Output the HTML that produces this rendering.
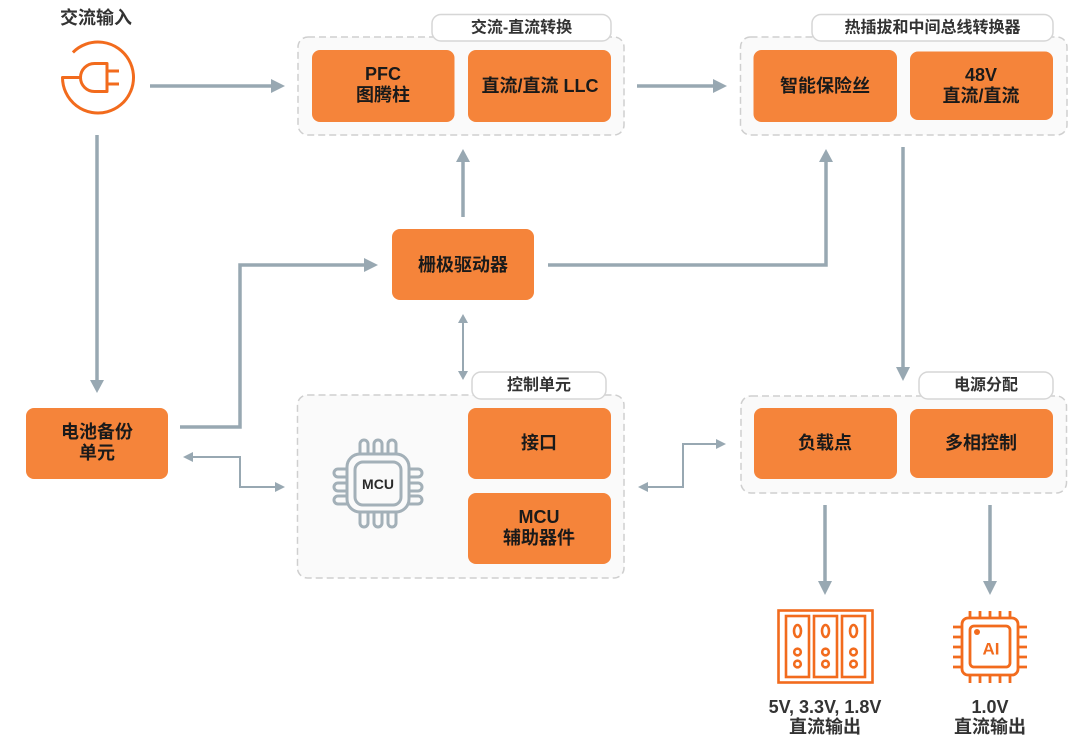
<!DOCTYPE html>
<html><head><meta charset="utf-8"><style>
html,body{margin:0;padding:0;background:#fff;}
svg{display:block;}
text{font-family:"Liberation Sans","Noto Sans CJK SC",sans-serif;font-weight:bold;}
</style></head><body>
<svg width="1080" height="745" viewBox="0 0 1080 745" xmlns="http://www.w3.org/2000/svg">
<!-- groups -->
<g fill="#fafafa" stroke="#cfcfcf" stroke-width="1.5" stroke-dasharray="7 4">
<rect x="298" y="37" width="326" height="98" rx="10"/>
<rect x="740.5" y="37" width="326.5" height="98" rx="10"/>
<rect x="297.5" y="395" width="326.5" height="183" rx="10"/>
<rect x="741" y="396" width="325.5" height="97" rx="10"/>
</g>
<g fill="#fff" stroke="#d6d6d6" stroke-width="1.5">
<rect x="432" y="14.5" width="179" height="26.5" rx="9"/>
<rect x="812" y="14.5" width="241" height="26.5" rx="9"/>
<rect x="472" y="372" width="134" height="27" rx="9"/>
<rect x="919" y="372" width="134" height="27" rx="9"/>
</g>
<g fill="#333" font-size="16" text-anchor="middle" dominant-baseline="central">
<text x="521.5" y="28">交流-直流转换</text>
<text x="932.5" y="28">热插拔和中间总线转换器</text>
<text x="539" y="385.5">控制单元</text>
<text x="986" y="385.5">电源分配</text>
</g>
<!-- nodes -->
<g fill="#f5843a">
<rect x="312" y="50" width="142.5" height="72" rx="8"/>
<rect x="468" y="50" width="143" height="72" rx="8"/>
<rect x="753.5" y="50" width="143.5" height="72" rx="8"/>
<rect x="910" y="51.5" width="143" height="68.5" rx="8"/>
<rect x="392" y="229" width="142" height="71" rx="8"/>
<rect x="26" y="408" width="142" height="71" rx="8"/>
<rect x="468" y="408" width="143" height="71" rx="8"/>
<rect x="468" y="493" width="143" height="71" rx="8"/>
<rect x="754" y="408" width="143" height="71" rx="8"/>
<rect x="910" y="409" width="143" height="69" rx="8"/>
</g>
<g fill="#1a1a1a" font-size="18" text-anchor="middle" dominant-baseline="central">
<text x="383" y="74">PFC</text>
<text x="383" y="95">图腾柱</text>
<text x="540" y="86">直流/直流 LLC</text>
<text x="825" y="86">智能保险丝</text>
<text x="981" y="75">48V</text>
<text x="981" y="96">直流/直流</text>
<text x="463" y="265">栅极驱动器</text>
<text x="97" y="432">电池备份</text>
<text x="97" y="453">单元</text>
<text x="539" y="443">接口</text>
<text x="539" y="517">MCU</text>
<text x="539" y="538">辅助器件</text>
<text x="825" y="443">负载点</text>
<text x="981" y="443">多相控制</text>
</g>
<!-- title -->
<text x="96" y="18" font-size="18" fill="#333" text-anchor="middle" dominant-baseline="central">交流输入</text>
<!-- plug icon -->
<g fill="none" stroke="#f26b1d" stroke-width="3" stroke-linejoin="round">
<path d="M72.9,52.4 A35.5,35.5 0 1 1 62.5,77.5 L80.5,77.5"/>
<path d="M107,63.5 L94.5,63.5 A14,14 0 0 0 94.5,91.5 L107,91.5 Z"/>
<path d="M107,71 L119,71 M107,84 L119,84"/>
</g>
<!-- thick arrows -->
<g fill="none" stroke="#98a8b2" stroke-width="3.5">
<path d="M150,86 L272,86"/>
<path d="M97,135 L97,381"/>
<path d="M637,86 L714,86"/>
<path d="M180,427 L240,427 L240,265 L366,265"/>
<path d="M463,217 L463,161"/>
<path d="M548,265 L826,265 L826,161"/>
<path d="M903,147 L903,368"/>
<path d="M825,505 L825,582"/>
<path d="M990,505 L990,582"/>
</g>
<g fill="#98a8b2">
<polygon points="285,86 271,79 271,93"/>
<polygon points="97,393 90,380 104,380"/>
<polygon points="727,86 713,79 713,93"/>
<polygon points="378,265 364,258 364,272"/>
<polygon points="463,149 456,162 470,162"/>
<polygon points="826,149 819,162 833,162"/>
<polygon points="903,381 896,367 910,367"/>
<polygon points="825,595 818,581 832,581"/>
<polygon points="990,595 983,581 997,581"/>
</g>
<!-- thin arrows -->
<g fill="none" stroke="#98a8b2" stroke-width="2">
<path d="M463,322 L463,372"/>
<path d="M192,457 L240,457 L240,487 L276,487"/>
<path d="M647,487 L683,487 L683,444 L717,444"/>
</g>
<g fill="#98a8b2">
<polygon points="463,314 458,323 468,323"/>
<polygon points="463,380 458,371 468,371"/>
<polygon points="183,457 193,452 193,462"/>
<polygon points="285,487 275,482 275,492"/>
<polygon points="638,487 648,482 648,492"/>
<polygon points="726,444 716,439 716,449"/>
</g>
<!-- MCU icon -->
<g fill="none" stroke="#a3b0b8" stroke-width="3">
<rect x="360" y="440" width="8" height="20" rx="4"/>
<rect x="374" y="440" width="8" height="20" rx="4"/>
<rect x="388" y="440" width="8" height="20" rx="4"/>
<rect x="360" y="506" width="8" height="21" rx="4"/>
<rect x="374" y="506" width="8" height="21" rx="4"/>
<rect x="388" y="506" width="8" height="21" rx="4"/>
<rect x="334" y="469" width="20" height="8" rx="4"/>
<rect x="334" y="483" width="20" height="8" rx="4"/>
<rect x="334" y="497" width="20" height="8" rx="4" transform="translate(0,-1)"/>
<rect x="402" y="469" width="20" height="8" rx="4"/>
<rect x="402" y="483" width="20" height="8" rx="4"/>
<rect x="402" y="496" width="20" height="8" rx="4"/>
</g>
<rect x="347" y="454" width="62" height="58" rx="13" fill="#fafafa" stroke="#a3b0b8" stroke-width="3"/>
<rect x="355" y="462" width="46" height="43" rx="8" fill="#fafafa" stroke="#a3b0b8" stroke-width="3"/>
<text x="378" y="484" font-size="14" fill="#2a2a2a" text-anchor="middle" dominant-baseline="central">MCU</text>
<!-- regulator icon -->
<g fill="none" stroke="#f26b1d" stroke-width="2.6">
<rect x="778.5" y="610.5" width="94" height="72"/>
<rect x="786" y="616" width="23" height="61"/>
<rect x="814" y="616" width="23" height="61"/>
<rect x="842" y="616" width="23" height="61"/>
<ellipse cx="797.5" cy="631" rx="3.5" ry="6"/>
<ellipse cx="825.5" cy="631" rx="3.5" ry="6"/>
<ellipse cx="853.5" cy="631" rx="3.5" ry="6"/>
<circle cx="797.5" cy="652" r="3.3"/>
<circle cx="825.5" cy="652" r="3.3"/>
<circle cx="853.5" cy="652" r="3.3"/>
<circle cx="797.5" cy="664" r="3.3"/>
<circle cx="825.5" cy="664" r="3.3"/>
<circle cx="853.5" cy="664" r="3.3"/>
</g>
<!-- AI chip icon -->
<g fill="none" stroke="#f26b1d" stroke-width="2.8">
<path d="M970,611 V618 M980,611 V618 M990,611 V618 M1000,611 V618 M1010,611 V618"/>
<path d="M970,675 V683 M980,675 V683 M990,675 V683 M1000,675 V683 M1010,675 V683"/>
<path d="M953,627 H962 M953,637 H962 M953,647 H962 M953,657 H962 M953,667 H962"/>
<path d="M1018,627 H1027 M1018,637 H1027 M1018,647 H1027 M1018,657 H1027 M1018,667 H1027"/>
<rect x="962" y="618" width="56" height="57" rx="6"/>
<rect x="970" y="626" width="40" height="41" rx="4"/>
</g>
<circle cx="977" cy="632" r="3" fill="#f26b1d"/>
<text x="991" y="649" font-size="17" fill="#f26b1d" text-anchor="middle" dominant-baseline="central">AI</text>
<!-- bottom labels -->
<g fill="#333" font-size="18" text-anchor="middle" dominant-baseline="central">
<text x="825" y="707">5V, 3.3V, 1.8V</text>
<text x="825" y="727">直流输出</text>
<text x="990" y="707">1.0V</text>
<text x="990" y="727">直流输出</text>
</g>
</svg>
</body></html>
